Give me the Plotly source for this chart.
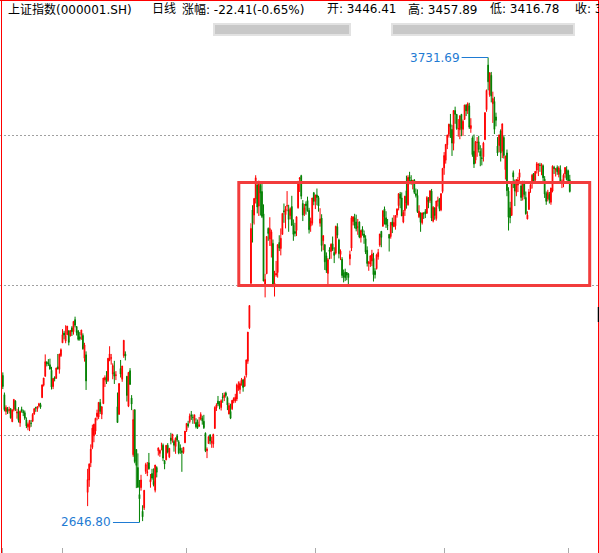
import plotly.graph_objects as go

# 上证指数 daily bars, 2019-11-08 .. 2021-05-07
DATES = [
    "2019-11-08", "2019-11-11", "2019-11-12", "2019-11-13", "2019-11-14", "2019-11-15", "2019-11-18", "2019-11-19",
    "2019-11-20", "2019-11-21", "2019-11-22", "2019-11-25", "2019-11-26", "2019-11-27", "2019-11-28", "2019-11-29",
    "2019-12-02", "2019-12-03", "2019-12-04", "2019-12-05", "2019-12-06", "2019-12-09", "2019-12-10", "2019-12-11",
    "2019-12-12", "2019-12-13", "2019-12-16", "2019-12-17", "2019-12-18", "2019-12-19", "2019-12-20", "2019-12-23",
    "2019-12-24", "2019-12-25", "2019-12-26", "2019-12-27", "2019-12-30", "2019-12-31",
    "2020-01-02", "2020-01-03", "2020-01-06", "2020-01-07", "2020-01-08", "2020-01-09", "2020-01-10", "2020-01-13",
    "2020-01-14", "2020-01-15", "2020-01-16", "2020-01-17", "2020-01-20", "2020-01-21", "2020-01-22", "2020-01-23",
    "2020-02-03", "2020-02-04", "2020-02-05", "2020-02-06", "2020-02-07", "2020-02-10", "2020-02-11", "2020-02-12",
    "2020-02-13", "2020-02-14", "2020-02-17", "2020-02-18", "2020-02-19", "2020-02-20", "2020-02-21", "2020-02-24",
    "2020-02-25", "2020-02-26", "2020-02-27", "2020-02-28",
    "2020-03-02", "2020-03-03", "2020-03-04", "2020-03-05", "2020-03-06", "2020-03-09", "2020-03-10", "2020-03-11",
    "2020-03-12", "2020-03-13", "2020-03-16", "2020-03-17", "2020-03-18", "2020-03-19", "2020-03-20", "2020-03-23",
    "2020-03-24", "2020-03-25", "2020-03-26", "2020-03-27", "2020-03-30", "2020-03-31",
    "2020-04-01", "2020-04-02", "2020-04-03", "2020-04-07", "2020-04-08", "2020-04-09", "2020-04-10", "2020-04-13",
    "2020-04-14", "2020-04-15", "2020-04-16", "2020-04-17", "2020-04-20", "2020-04-21", "2020-04-22", "2020-04-23",
    "2020-04-24", "2020-04-27", "2020-04-28", "2020-04-29", "2020-04-30",
    "2020-05-06", "2020-05-07", "2020-05-08", "2020-05-11", "2020-05-12", "2020-05-13", "2020-05-14", "2020-05-15",
    "2020-05-18", "2020-05-19", "2020-05-20", "2020-05-21", "2020-05-22", "2020-05-25", "2020-05-26", "2020-05-27",
    "2020-05-28", "2020-05-29",
    "2020-06-01", "2020-06-02", "2020-06-03", "2020-06-04", "2020-06-05", "2020-06-08", "2020-06-09", "2020-06-10",
    "2020-06-11", "2020-06-12", "2020-06-15", "2020-06-16", "2020-06-17", "2020-06-18", "2020-06-19", "2020-06-22",
    "2020-06-23", "2020-06-24", "2020-06-29", "2020-06-30",
    "2020-07-01", "2020-07-02", "2020-07-03", "2020-07-06", "2020-07-07", "2020-07-08", "2020-07-09", "2020-07-10",
    "2020-07-13", "2020-07-14", "2020-07-15", "2020-07-16", "2020-07-17", "2020-07-20", "2020-07-21", "2020-07-22",
    "2020-07-23", "2020-07-24", "2020-07-27", "2020-07-28", "2020-07-29", "2020-07-30", "2020-07-31",
    "2020-08-03", "2020-08-04", "2020-08-05", "2020-08-06", "2020-08-07", "2020-08-10", "2020-08-11", "2020-08-12",
    "2020-08-13", "2020-08-14", "2020-08-17", "2020-08-18", "2020-08-19", "2020-08-20", "2020-08-21", "2020-08-24",
    "2020-08-25", "2020-08-26", "2020-08-27", "2020-08-28", "2020-08-31",
    "2020-09-01", "2020-09-02", "2020-09-03", "2020-09-04", "2020-09-07", "2020-09-08", "2020-09-09", "2020-09-10",
    "2020-09-11", "2020-09-14", "2020-09-15", "2020-09-16", "2020-09-17", "2020-09-18", "2020-09-21", "2020-09-22",
    "2020-09-23", "2020-09-24", "2020-09-25", "2020-09-28", "2020-09-29", "2020-09-30",
    "2020-10-09", "2020-10-12", "2020-10-13", "2020-10-14", "2020-10-15", "2020-10-16", "2020-10-19", "2020-10-20",
    "2020-10-21", "2020-10-22", "2020-10-23", "2020-10-26", "2020-10-27", "2020-10-28", "2020-10-29", "2020-10-30",
    "2020-11-02", "2020-11-03", "2020-11-04", "2020-11-05", "2020-11-06", "2020-11-09", "2020-11-10", "2020-11-11",
    "2020-11-12", "2020-11-13", "2020-11-16", "2020-11-17", "2020-11-18", "2020-11-19", "2020-11-20", "2020-11-23",
    "2020-11-24", "2020-11-25", "2020-11-26", "2020-11-27", "2020-11-30",
    "2020-12-01", "2020-12-02", "2020-12-03", "2020-12-04", "2020-12-07", "2020-12-08", "2020-12-09", "2020-12-10",
    "2020-12-11", "2020-12-14", "2020-12-15", "2020-12-16", "2020-12-17", "2020-12-18", "2020-12-21", "2020-12-22",
    "2020-12-23", "2020-12-24", "2020-12-25", "2020-12-28", "2020-12-29", "2020-12-30", "2020-12-31",
    "2021-01-04", "2021-01-05", "2021-01-06", "2021-01-07", "2021-01-08", "2021-01-11", "2021-01-12", "2021-01-13",
    "2021-01-14", "2021-01-15", "2021-01-18", "2021-01-19", "2021-01-20", "2021-01-21", "2021-01-22", "2021-01-25",
    "2021-01-26", "2021-01-27", "2021-01-28", "2021-01-29",
    "2021-02-01", "2021-02-02", "2021-02-03", "2021-02-04", "2021-02-05", "2021-02-08", "2021-02-09", "2021-02-10",
    "2021-02-18", "2021-02-19", "2021-02-22", "2021-02-23", "2021-02-24", "2021-02-25", "2021-02-26",
    "2021-03-01", "2021-03-02", "2021-03-03", "2021-03-04", "2021-03-05", "2021-03-08", "2021-03-09", "2021-03-10",
    "2021-03-11", "2021-03-12", "2021-03-15", "2021-03-16", "2021-03-17", "2021-03-18", "2021-03-19", "2021-03-22",
    "2021-03-23", "2021-03-24", "2021-03-25", "2021-03-26", "2021-03-29", "2021-03-30", "2021-03-31",
    "2021-04-01", "2021-04-02", "2021-04-06", "2021-04-07", "2021-04-08", "2021-04-09", "2021-04-12", "2021-04-13",
    "2021-04-14", "2021-04-15", "2021-04-16", "2021-04-19", "2021-04-20", "2021-04-21", "2021-04-22", "2021-04-23",
    "2021-04-26", "2021-04-27", "2021-04-28", "2021-04-29", "2021-04-30",
    "2021-05-06", "2021-05-07",
]

OPEN = [
    2990, 2945, 2906, 2912, 2908, 2912, 2882, 2910, 2930, 2902, 2906, 2879, 2911, 2906, 2903, 2886,
    2870, 2868, 2878, 2883, 2900, 2915, 2912, 2919, 2922, 2938, 2967, 2988, 3021, 3019, 3015, 3002, 2964, 2985, 2983, 3010, 3004, 3036,
    3066, 3089, 3070, 3085, 3094, 3082, 3101, 3092, 3120, 3104, 3093, 3080, 3084, 3083, 3030, 3038,
    2717, 2746, 2786, 2822, 2849, 2860, 2894, 2893, 2927, 2899, 2924, 2979, 2985, 2978, 3025, 3030, 2993, 2997, 2990, 2917,
    2899, 3006, 2981, 3036, 3040, 2988, 2918, 3001, 2937, 2805, 2910, 2817, 2775, 2712, 2728, 2673, 2681, 2766, 2763, 2786, 2741, 2761,
    2743, 2722, 2775, 2814, 2808, 2826, 2827, 2791, 2793, 2827, 2800, 2844, 2839, 2836, 2824, 2849, 2835, 2820, 2814, 2810, 2833,
    2862, 2877, 2882, 2898, 2892, 2885, 2880, 2882, 2871, 2888, 2890, 2883, 2855, 2814, 2831, 2851, 2833, 2830,
    2866, 2914, 2930, 2925, 2915, 2940, 2939, 2949, 2938, 2900, 2906, 2912, 2931, 2930, 2935, 2961, 2957, 2973, 2980, 2965,
    2991, 3023, 3101, 3205, 3376, 3364, 3402, 3434, 3385, 3433, 3419, 3367, 3198, 3227, 3333, 3308, 3292, 3298, 3203, 3224, 3230, 3300, 3286,
    3319, 3374, 3365, 3385, 3376, 3363, 3384, 3340, 3326, 3328, 3381, 3448, 3456, 3391, 3368, 3390, 3398, 3375, 3338, 3345, 3416,
    3396, 3411, 3405, 3345, 3357, 3304, 3295, 3269, 3228, 3283, 3279, 3297, 3277, 3275, 3337, 3306, 3272, 3261, 3229, 3231, 3230, 3227,
    3262, 3287, 3349, 3358, 3348, 3336, 3348, 3312, 3331, 3320, 3309, 3282, 3251, 3250, 3257, 3263,
    3233, 3239, 3267, 3294, 3326, 3338, 3378, 3358, 3340, 3319, 3314, 3348, 3337, 3339, 3364, 3386, 3413, 3404, 3348, 3375, 3421,
    3388, 3453, 3446, 3442, 3446, 3414, 3410, 3360, 3369, 3346, 3367, 3372, 3368, 3400, 3398, 3420, 3350, 3381, 3356, 3397, 3402, 3376, 3419,
    3474, 3492, 3528, 3552, 3577, 3564, 3531, 3608, 3599, 3565, 3563, 3599, 3564, 3587, 3620, 3608, 3619, 3566, 3544, 3513,
    3492, 3533, 3535, 3513, 3498, 3500, 3540, 3610, 3714, 3645, 3690, 3624, 3629, 3593, 3525,
    3526, 3560, 3513, 3545, 3470, 3509, 3420, 3381, 3363, 3463, 3442, 3417, 3434, 3452, 3432, 3407, 3441, 3405, 3355, 3377, 3425, 3438, 3461,
    3446, 3469, 3481, 3480, 3478, 3479, 3448, 3414, 3402, 3412, 3394, 3420, 3475, 3469, 3475, 3459, 3470, 3437, 3442, 3460, 3470,
    3467, 3446.41,
]

HIGH = [
    2997, 2950, 2920, 2916, 2917, 2914, 2911, 2934, 2932, 2912, 2916, 2908, 2917, 2910, 2908, 2892,
    2880, 2885, 2886, 2902, 2914, 2917, 2918, 2926, 2926, 2968, 2984, 3039, 3023, 3028, 3029, 3010, 2983, 2988, 3008, 3040, 3040, 3053,
    3098, 3094, 3107, 3105, 3095, 3095, 3105, 3116, 3127, 3105, 3096, 3091, 3096, 3088, 3066, 3046,
    2772, 2785, 2829, 2875, 2877, 2891, 2910, 2927, 2935, 2918, 2984, 2990, 3000, 3030, 3058, 3040, 3018, 3024, 3000, 2950,
    2971, 3026, 3012, 3072, 3046, 2988, 2998, 3007, 2944, 2910, 2910, 2818, 2808, 2746, 2758, 2687, 2722, 2786, 2788, 2809, 2760, 2772,
    2773, 2781, 2778, 2821, 2817, 2833, 2831, 2792, 2827, 2832, 2820, 2856, 2853, 2840, 2845, 2853, 2839, 2829, 2821, 2823, 2860,
    2878, 2884, 2901, 2907, 2899, 2898, 2890, 2887, 2893, 2904, 2896, 2898, 2857, 2822, 2848, 2853, 2847, 2854,
    2918, 2925, 2942, 2930, 2934, 2949, 2950, 2952, 2941, 2926, 2924, 2932, 2939, 2947, 2971, 2976, 2976, 2984, 2980, 2989,
    3027, 3091, 3153, 3345, 3387, 3403, 3457, 3436, 3444, 3437, 3437, 3389, 3227, 3315, 3335, 3359, 3330, 3307, 3234, 3257, 3296, 3317, 3333,
    3368, 3391, 3385, 3420, 3388, 3382, 3409, 3354, 3346, 3361, 3444, 3452, 3458, 3399, 3390, 3396, 3407, 3381, 3358, 3404, 3418,
    3411, 3426, 3409, 3380, 3366, 3317, 3296, 3277, 3264, 3289, 3298, 3314, 3289, 3339, 3345, 3309, 3284, 3266, 3237, 3239, 3231, 3229,
    3281, 3362, 3361, 3367, 3365, 3355, 3349, 3330, 3338, 3328, 3317, 3291, 3257, 3270, 3283, 3276,
    3240, 3274, 3285, 3320, 3327, 3375, 3384, 3373, 3355, 3320, 3347, 3358, 3364, 3363, 3380, 3415, 3418, 3417, 3376, 3409, 3456,
    3457, 3465, 3457, 3446, 3448, 3426, 3424, 3387, 3370, 3370, 3371, 3378, 3408, 3406, 3421, 3425, 3385, 3382, 3397, 3407, 3404, 3415, 3474,
    3511, 3529, 3550, 3577, 3600, 3574, 3608, 3617, 3600, 3588, 3596, 3600, 3587, 3621, 3623, 3627, 3626, 3590, 3548, 3552,
    3537, 3546, 3549, 3527, 3520, 3535, 3604, 3657, 3731.69, 3697, 3698, 3652, 3640, 3603, 3546,
    3552, 3564, 3577, 3550, 3502, 3517, 3429, 3395, 3440, 3468, 3447, 3447, 3453, 3471, 3436, 3443, 3444, 3419, 3373, 3425, 3441, 3460, 3462,
    3467, 3488, 3484, 3486, 3485, 3482, 3455, 3419, 3423, 3418, 3428, 3480, 3479, 3474, 3480, 3478, 3480, 3447, 3461, 3476, 3478,
    3470, 3457.89,
]

LOW = [
    2958, 2906, 2898, 2900, 2901, 2889, 2881, 2906, 2907, 2889, 2880, 2870, 2903, 2895, 2886, 2867,
    2862, 2860, 2870, 2881, 2898, 2905, 2905, 2915, 2912, 2938, 2964, 2987, 3011, 3012, 3003, 2957, 2958, 2976, 2983, 3004, 2994, 3033,
    3066, 3074, 3065, 3084, 3060, 3081, 3082, 3085, 3102, 3083, 3071, 3071, 3073, 3050, 3022, 2956,
    2685, 2730, 2776, 2818, 2834, 2852, 2885, 2888, 2900, 2888, 2924, 2963, 2970, 2975, 3023, 3015, 2981, 2970, 2979, 2880,
    2899, 2985, 2975, 3031, 3025, 2929, 2916, 2968, 2909, 2800, 2785, 2727, 2728, 2646.80, 2721, 2650, 2676, 2760, 2755, 2770, 2728, 2745,
    2731, 2717, 2752, 2803, 2800, 2815, 2790, 2771, 2792, 2808, 2797, 2829, 2833, 2812, 2807, 2835, 2806, 2807, 2765, 2807, 2832,
    2858, 2868, 2878, 2886, 2877, 2877, 2866, 2865, 2871, 2885, 2875, 2865, 2811, 2797, 2831, 2829, 2821, 2821,
    2866, 2907, 2918, 2911, 2908, 2926, 2930, 2938, 2909, 2899, 2888, 2909, 2925, 2926, 2930, 2954, 2947, 2966, 2952, 2963,
    2985, 3017, 3098, 3197, 3300, 3342, 3391, 3368, 3362, 3363, 3357, 3210, 3172, 3227, 3304, 3292, 3265, 3197, 3174, 3220, 3218, 3280, 3270,
    3319, 3346, 3333, 3373, 3325, 3354, 3340, 3304, 3314, 3315, 3379, 3418, 3401, 3350, 3362, 3365, 3372, 3321, 3325, 3340, 3387,
    3378, 3387, 3372, 3337, 3279, 3282, 3236, 3229, 3202, 3261, 3262, 3280, 3252, 3272, 3310, 3263, 3259, 3217, 3207, 3210, 3212, 3202,
    3247, 3280, 3340, 3333, 3326, 3318, 3310, 3300, 3316, 3297, 3273, 3244, 3234, 3243, 3245, 3209,
    3216, 3237, 3260, 3290, 3289, 3337, 3342, 3334, 3329, 3279, 3309, 3322, 3336, 3330, 3358, 3375, 3380, 3362, 3345, 3362, 3379,
    3386, 3436, 3435, 3424, 3413, 3405, 3369, 3357, 3325, 3342, 3355, 3357, 3368, 3380, 3392, 3350, 3347, 3353, 3351, 3384, 3373, 3373, 3415,
    3458, 3484, 3518, 3545, 3544, 3502, 3515, 3577, 3563, 3547, 3541, 3548, 3549, 3587, 3595, 3600, 3565, 3556, 3500, 3474,
    3484, 3500, 3510, 3478, 3480, 3489, 3540, 3605, 3655, 3640, 3627, 3579, 3553, 3571, 3502,
    3511, 3489, 3497, 3496, 3447, 3408, 3328, 3345, 3363, 3427, 3385, 3408, 3418, 3444, 3397, 3398, 3401, 3365, 3354, 3377, 3416, 3426, 3438,
    3439, 3461, 3455, 3465, 3457, 3441, 3404, 3388, 3396, 3391, 3388, 3417, 3460, 3454, 3458, 3452, 3440, 3427, 3429, 3451, 3445,
    3437, 3416.78,
]

CLOSE = [
    2964, 2910, 2915, 2905, 2910, 2891, 2909, 2934, 2911, 2904, 2885, 2906, 2907, 2903, 2890, 2872,
    2876, 2885, 2878, 2899, 2912, 2914, 2917, 2924, 2916, 2968, 2984, 3022, 3017, 3017, 3005, 2963, 2983, 2982, 3007, 3005, 3040, 3050,
    3085, 3084, 3083, 3105, 3067, 3095, 3092, 3116, 3107, 3090, 3074, 3075, 3096, 3052, 3061, 2977,
    2747, 2783, 2818, 2867, 2876, 2890, 2902, 2927, 2906, 2917, 2984, 2985, 2975, 3030, 3040, 3031, 3013, 2988, 2991, 2880,
    2971, 2993, 3012, 3072, 3035, 2943, 2997, 2969, 2923, 2887, 2789, 2780, 2729, 2702, 2746, 2660, 2722, 2782, 2765, 2772, 2747, 2750,
    2735, 2781, 2764, 2821, 2815, 2826, 2797, 2783, 2827, 2811, 2820, 2838, 2853, 2827, 2844, 2839, 2809, 2815, 2810, 2822, 2860,
    2878, 2872, 2895, 2895, 2892, 2898, 2870, 2868, 2875, 2899, 2884, 2868, 2814, 2818, 2847, 2837, 2836, 2852,
    2915, 2921, 2923, 2919, 2931, 2938, 2944, 2943, 2921, 2920, 2890, 2932, 2936, 2939, 2968, 2965, 2971, 2980, 2962, 2985,
    3026, 3091, 3153, 3333, 3345, 3403, 3451, 3383, 3443, 3415, 3361, 3210, 3214, 3314, 3321, 3333, 3325, 3197, 3205, 3228, 3295, 3287, 3310,
    3368, 3372, 3378, 3386, 3354, 3379, 3340, 3319, 3321, 3360, 3439, 3451, 3408, 3364, 3381, 3386, 3374, 3330, 3350, 3404, 3396,
    3411, 3405, 3385, 3355, 3293, 3316, 3255, 3235, 3260, 3279, 3296, 3284, 3270, 3338, 3317, 3274, 3280, 3223, 3219, 3218, 3224, 3218,
    3272, 3358, 3360, 3340, 3332, 3336, 3313, 3328, 3325, 3312, 3278, 3251, 3254, 3269, 3273, 3225,
    3225, 3271, 3277, 3320, 3312, 3374, 3360, 3342, 3339, 3310, 3347, 3340, 3347, 3363, 3378, 3414, 3403, 3362, 3370, 3408, 3392,
    3452, 3449, 3442, 3445, 3417, 3410, 3372, 3373, 3347, 3369, 3367, 3367, 3405, 3395, 3421, 3357, 3382, 3363, 3397, 3397, 3379, 3414, 3473,
    3503, 3529, 3551, 3576, 3570, 3532, 3608, 3599, 3566, 3566, 3596, 3566, 3583, 3621, 3607, 3624, 3569, 3573, 3505, 3483,
    3534, 3534, 3517, 3502, 3496, 3532, 3603, 3655, 3675, 3696, 3642, 3636, 3564, 3585, 3509,
    3551, 3509, 3577, 3503, 3502, 3421, 3359, 3358, 3437, 3453, 3420, 3447, 3446, 3463, 3405, 3443, 3412, 3367, 3364, 3418, 3435, 3457, 3442,
    3466, 3484, 3483, 3480, 3482, 3451, 3413, 3396, 3417, 3399, 3427, 3478, 3473, 3472, 3465, 3474, 3441, 3443, 3457, 3475, 3447,
    3441, 3418.87,
]

GRID_PRICES = [2850, 3200, 3550]
TICK_DATES = ["2019-11-08", "2020-01-02", "2020-05-06", "2020-09-01", "2021-01-04", "2021-05-06"]

HEADER_TEXT = ["上证指数(000001.SH)", "日线", "涨幅: -22.41(-0.65%)",
               "开: 3446.41", "高: 3457.89", "低: 3416.78", "收: 3418.87"]

HIGH_MARK = ("2021-02-18", 3731.69)
LOW_MARK = ("2020-03-19", 2646.80)
BOX_PRICES = (3200, 3440)

W, H = 599, 553
FONT = "DejaVu Sans, Noto Sans CJK SC, sans-serif"
BLUE = "#1F7BD3"

fig = go.Figure()
fig.add_trace(
    go.Candlestick(
        x=DATES, open=OPEN, high=HIGH, low=LOW, close=CLOSE,
        increasing=dict(line=dict(color="#FF0000", width=1), fillcolor="#FF0000"),
        decreasing=dict(line=dict(color="#008000", width=1), fillcolor="#008000"),
        whiskerwidth=0, showlegend=False, hoverinfo="x+y",
    )
)

# header line
header_x = [6, 150, 180, 325, 406, 488, 573]
for txt, px in zip(HEADER_TEXT, header_x):
    fig.add_annotation(text=txt, x=px / W, y=1 - 9.5 / H, xref="paper", yref="paper",
                       xanchor="left", yanchor="middle", showarrow=False,
                       font=dict(family=FONT, size=12, color="#000000"))

# high / low labels
for (d, p) in (HIGH_MARK, LOW_MARK):
    fig.add_annotation(text=f"{p:.2f}", x=d, y=p, xref="x", yref="y",
                       showarrow=True, arrowhead=0, arrowwidth=1.2, arrowcolor=BLUE,
                       ax=-53, ay=0, standoff=0, borderpad=1,
                       font=dict(family=FONT, size=12, color=BLUE))

# blurred strips under header
for x0, x1 in ((213, 351), (391, 575)):
    fig.add_shape(type="rect", xref="paper", yref="paper",
                  x0=x0 / W, x1=x1 / W, y0=1 - 36 / H, y1=1 - 23 / H,
                  fillcolor="#E2E2E2", line_width=0, layer="below")
    fig.add_shape(type="rect", xref="paper", yref="paper",
                  x0=(x0 + 2) / W, x1=(x1 - 2) / W, y0=1 - 34 / H, y1=1 - 25 / H,
                  fillcolor="#C8C8C8", line_width=0, layer="below")

# highlighted box
fig.add_shape(type="rect", xref="paper", yref="y",
              x0=238.8 / W, x1=589.7 / W, y0=BOX_PRICES[0], y1=BOX_PRICES[1],
              line=dict(color="#F23C3C", width=3), fillcolor="rgba(0,0,0,0)")

# frame
frame = dict(color="#FF0000", width=1)
fig.add_shape(type="line", xref="paper", yref="paper", x0=1.5 / W, x1=1.5 / W, y0=0, y1=1, line=frame)
fig.add_shape(type="line", xref="paper", yref="paper", x0=598.5 / W, x1=598.5 / W, y0=0, y1=1, line=frame)
fig.add_shape(type="line", xref="paper", yref="paper", x0=0, x1=1, y0=1 - 0.5 / H, y1=1 - 0.5 / H, line=frame)
fig.add_shape(type="line", xref="paper", yref="paper", x0=598.5 / W, x1=598.5 / W,
              y0=1 - 322 / H, y1=1 - 307 / H, line=dict(color="#000000", width=1.5))

fig.update_layout(
    width=W, height=H,
    margin=dict(l=0, r=0, t=0, b=0, pad=0),
    paper_bgcolor="white", plot_bgcolor="white",
    showlegend=False,
    xaxis=dict(type="category", range=[-1.8, 379.6], rangeslider=dict(visible=False),
               showgrid=False, zeroline=False, showline=False,
               tickmode="array", tickvals=TICK_DATES, ticks="inside", ticklen=5,
               tickcolor="#AAAAAA", tickwidth=1, showticklabels=False),
    yaxis=dict(range=[2575.6, 3865.85], tickmode="array", tickvals=GRID_PRICES,
               showticklabels=False, showgrid=True, gridcolor="#A0A0A0", gridwidth=1,
               griddash="2px,2px", zeroline=False, showline=False, ticks=""),
)

# the page body keeps its default 8px margin otherwise
fig.write_html("out.html", config={"displayModeBar": False},
               post_script="document.body.style.margin='0';")
